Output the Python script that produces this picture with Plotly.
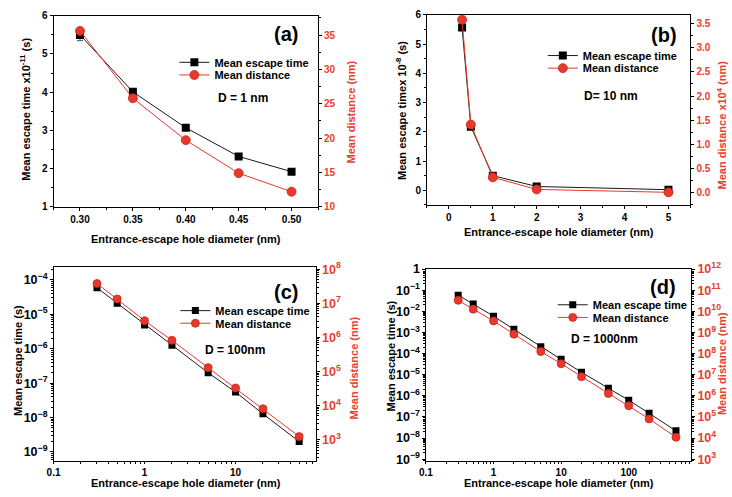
import plotly.graph_objects as go

# ---------------- data ----------------
a_x = [0.30, 0.35, 0.40, 0.45, 0.50]
a_time = [5.50, 4.01, 3.07, 2.32, 1.92]
a_time_err = [0.15, 0.08, 0.05, 0.03, 0.03]
a_dist = [35.6, 25.8, 19.7, 14.9, 12.2]

b_x = [0.3, 0.5, 1, 2, 5]
b_time = [5.57, 2.17, 0.50, 0.13, 0.02]
b_dist = [3.58, 1.41, 0.32, 0.07, 0.01]

c_x = [0.3, 0.5, 1, 2, 5, 10, 20, 50]
c_time = [5.9e-5, 2.1e-5, 4.9e-6, 1.25e-6, 2.0e-7, 5.5e-8, 1.28e-8, 2.0e-9]
c_dist = [3.8e7, 1.34e7, 3.1e6, 8.2e5, 1.3e5, 3.3e4, 8.1e3, 1.24e3]

d_x = [0.3, 0.5, 1, 2, 5, 10, 20, 50, 100, 200, 500]
d_time = [5.8e-2, 2.2e-2, 5.9e-3, 1.4e-3, 2.1e-4, 5.4e-5, 1.3e-5, 2.3e-6, 6.2e-7, 1.5e-7, 2.2e-8]
d_dist = [3.3e10, 1.26e10, 3.5e9, 8.3e8, 1.24e8, 3.3e7, 8.1e6, 1.3e6, 3.4e5, 8.1e4, 1.1e4]

a_xticks = [0.30, 0.35, 0.40, 0.45, 0.50]
a_xticktext = ["0.30", "0.35", "0.40", "0.45", "0.50"]
log_xticks = [0.1, 1, 10, 100]
log_xticktext = ["0.1", "1", "10", "100"]

name_time = "Mean escape time"
name_dist = "Mean distance"
x_title = "Entrance-escape hole diameter (nm)"

# ---------------- style ----------------
W, H = 732, 497
FONT = "Liberation Sans, Arial, sans-serif"
BLACK = "#1a1a1a"
RED = "#e8382c"
RED_TXT = "#e8402f"

def px(x):
    return x / W

def py(y):
    return 1 - y / H

fig = go.Figure()

panels = [
    # xdata, time, dist, x axis, y, y2, legend(time), legend(dist), err
    (a_x, a_time, a_dist, "x", "y", "y2", "legend", "legend5", a_time_err),
    (b_x, b_time, b_dist, "x2", "y3", "y4", "legend2", "legend6", None),
    (c_x, c_time, c_dist, "x3", "y5", "y6", "legend3", "legend7", None),
    (d_x, d_time, d_dist, "x4", "y7", "y8", "legend4", "legend8", None),
]

for i, (xs, tt, dd, xa, ya, ya2, lg1, lg2, err) in enumerate(panels):
    msize = 8 if i < 2 else 7
    tr = dict(
        x=xs, y=tt, mode="lines+markers", name=name_time,
        line=dict(color=BLACK, width=1),
        marker=dict(symbol="square", size=msize, color="black"),
        xaxis=xa, yaxis=ya, legend=lg1, showlegend=True,
    )
    if err is not None:
        tr["error_y"] = dict(type="data", array=err, color="#555", thickness=1, width=3)
    fig.add_trace(go.Scatter(**tr))
    fig.add_trace(go.Scatter(
        x=xs, y=dd, mode="lines+markers", name=name_dist,
        line=dict(color=RED, width=1),
        marker=dict(symbol="circle", size=msize + 1, color=RED,
                    line=dict(color="#c52a1e", width=0.8)),
        xaxis=xa, yaxis=ya2, legend=lg2, showlegend=True,
    ))

tickfont = dict(family=FONT, size=10, color="black", weight="bold")
tickfont_r = dict(family=FONT, size=10, color=RED_TXT, weight="bold")

def xstyle(domain, anchor, rng, log=False, **kw):
    d = dict(domain=domain, anchor=anchor, range=rng, showline=True, linecolor="black",
             linewidth=1, mirror=True, ticks="outside", ticklen=3, tickcolor="black",
             showgrid=False, zeroline=False, tickfont=tickfont)
    if log:
        d.update(type="log", tickmode="array", tickvals=log_xticks, ticktext=log_xticktext,
                 ticklen=2,
                 minor=dict(ticks="outside", ticklen=2, dtick="D1", tickcolor="black"))
    d.update(kw)
    return d

def ystyle(domain, anchor, rng, log=False, right=False, overlay=None, **kw):
    d = dict(domain=domain, anchor=anchor, range=rng, showline=True, linecolor="black",
             linewidth=1, ticks="outside", ticklen=3, tickcolor="black", showgrid=False,
             zeroline=False, tickfont=tickfont_r if right else tickfont)
    if right:
        d.update(side="right", overlaying=overlay)
    if log:
        d.update(type="log", dtick=1, exponentformat="power",
                 minor=dict(ticks="outside", ticklen=2, dtick="D1", tickcolor="black"))
    d.update(kw)
    return d

# panel domains (pixels)
A = dict(x=[px(47), px(314)], y=[py(204), py(7)])
B = dict(x=[px(424), px(690)], y=[py(202), py(6)])
C = dict(x=[px(47), px(312)], y=[py(466), py(266.5)])
D = dict(x=[px(423), px(691)], y=[py(466), py(268)])

fig.update_layout(
    xaxis=xstyle(A["x"], "y", [0.275, 0.525], tickmode="array", tickvals=a_xticks,
                 ticktext=a_xticktext, minor=dict(ticks="outside", ticklen=2, dtick=0.025, tick0=0.3)),
    yaxis=ystyle(A["y"], "x", [1, 6], dtick=1, minor=dict(ticks="outside", ticklen=2, dtick=0.5)),
    yaxis2=ystyle(A["y"], "x", [10, 37.8], right=True, overlay="y", dtick=5,
                  minor=dict(ticks="outside", ticklen=2, dtick=2.5)),
    xaxis2=xstyle(B["x"], "y3", [-0.5, 5.5], dtick=1, tick0=0,
                  minor=dict(ticks="outside", ticklen=2, dtick=0.5)),
    yaxis3=ystyle(B["y"], "x2", [-0.5, 6], dtick=1, minor=dict(ticks="outside", ticklen=2, dtick=0.5)),
    yaxis4=ystyle(B["y"], "x2", [-0.25, 3.68], right=True, overlay="y3", dtick=0.5, tick0=0,
                  tickformat=".1f", minor=dict(ticks="outside", ticklen=2, dtick=0.25)),
    xaxis3=xstyle(C["x"], "y5", [-1, 1.884], log=True),
    yaxis5=ystyle(C["y"], "x3", [-9.26, -3.64], log=True),
    yaxis6=ystyle(C["y"], "x3", [2.38, 8.05], log=True, right=True, overlay="y5"),
    xaxis4=xstyle(D["x"], "y7", [-1, 2.927], log=True),
    yaxis7=ystyle(D["y"], "x4", [-9.08, 0.005], log=True),
    yaxis8=ystyle(D["y"], "x4", [2.92, 12.005], log=True, right=True, overlay="y7"),
)

legfont = dict(family=FONT, size=11, color="black", weight="bold")
LEG_TEXT_OFFSET = 43  # distance from legend left edge to start of its text

def leg(text_x, row_y):
    return dict(x=px(text_x - LEG_TEXT_OFFSET), y=py(row_y), xanchor="left", yanchor="middle",
                bgcolor="rgba(0,0,0,0)", font=legfont, itemwidth=30, tracegroupgap=0,
                borderwidth=0, visible=True)

fig.update_layout(
    showlegend=True,
    legend=leg(212, 55), legend5=leg(212, 68),
    legend2=leg(584, 48), legend6=leg(584, 61),
    legend3=leg(213, 311), legend7=leg(213, 324),
    legend4=leg(594, 305), legend8=leg(594, 318),
)

ann = []
def text(x, y, s, size=11, color="black", angle=0):
    ann.append(dict(x=px(x), y=py(y), xref="paper", yref="paper", text=s, showarrow=False,
                    textangle=angle, xanchor="center", yanchor="middle",
                    font=dict(family=FONT, size=size, color=color, weight="bold")))

# axis titles
text(181, 237, x_title)
text(557, 230, x_title)
text(181, 489, x_title)
text(557, 489, x_title)
text(18, 103, "Mean escape time x10<sup>-11</sup> (s)", angle=-90)
text(347, 106, "Mean distance (nm)", color=RED_TXT, angle=-90)
text(398, 105, "Mean escape timex 10<sup>-8</sup> (s)", angle=-90)
text(722, 120, "Mean distance x10<sup>4</sup> (nm)", color=RED_TXT, angle=-90)
text(11, 362, "Mean escape time (s)", angle=-90)
text(350, 370, "Mean distance (nm)", color=RED_TXT, angle=-90)
text(388, 358, "Mean escape time (s)", angle=-90)
text(722, 366, "Mean distance (nm)", color=RED_TXT, angle=-90)

# panel labels and D annotations
text(282, 26, "(a)", size=20)
text(663, 27, "(b)", size=20)
text(282, 292, "(c)", size=20)
text(662, 287, "(d)", size=20)
text(238, 92, "D = 1 nm", size=12)
text(610, 90, "D= 10 nm", size=12)
text(230, 352, "D = 100nm", size=12)
text(603, 340, "D = 1000nm", size=12)

fig.update_layout(
    annotations=ann,
    width=W, height=H,
    margin=dict(l=0, r=0, t=0, b=0),
    paper_bgcolor="white", plot_bgcolor="white",
    font=dict(family=FONT, color="black"),
)

fig.write_html(
    "out.html",
    config={"displayModeBar": False},
    post_script="document.body.style.margin='0';document.body.style.padding='0';"
                "document.body.style.overflow='hidden';",
)
